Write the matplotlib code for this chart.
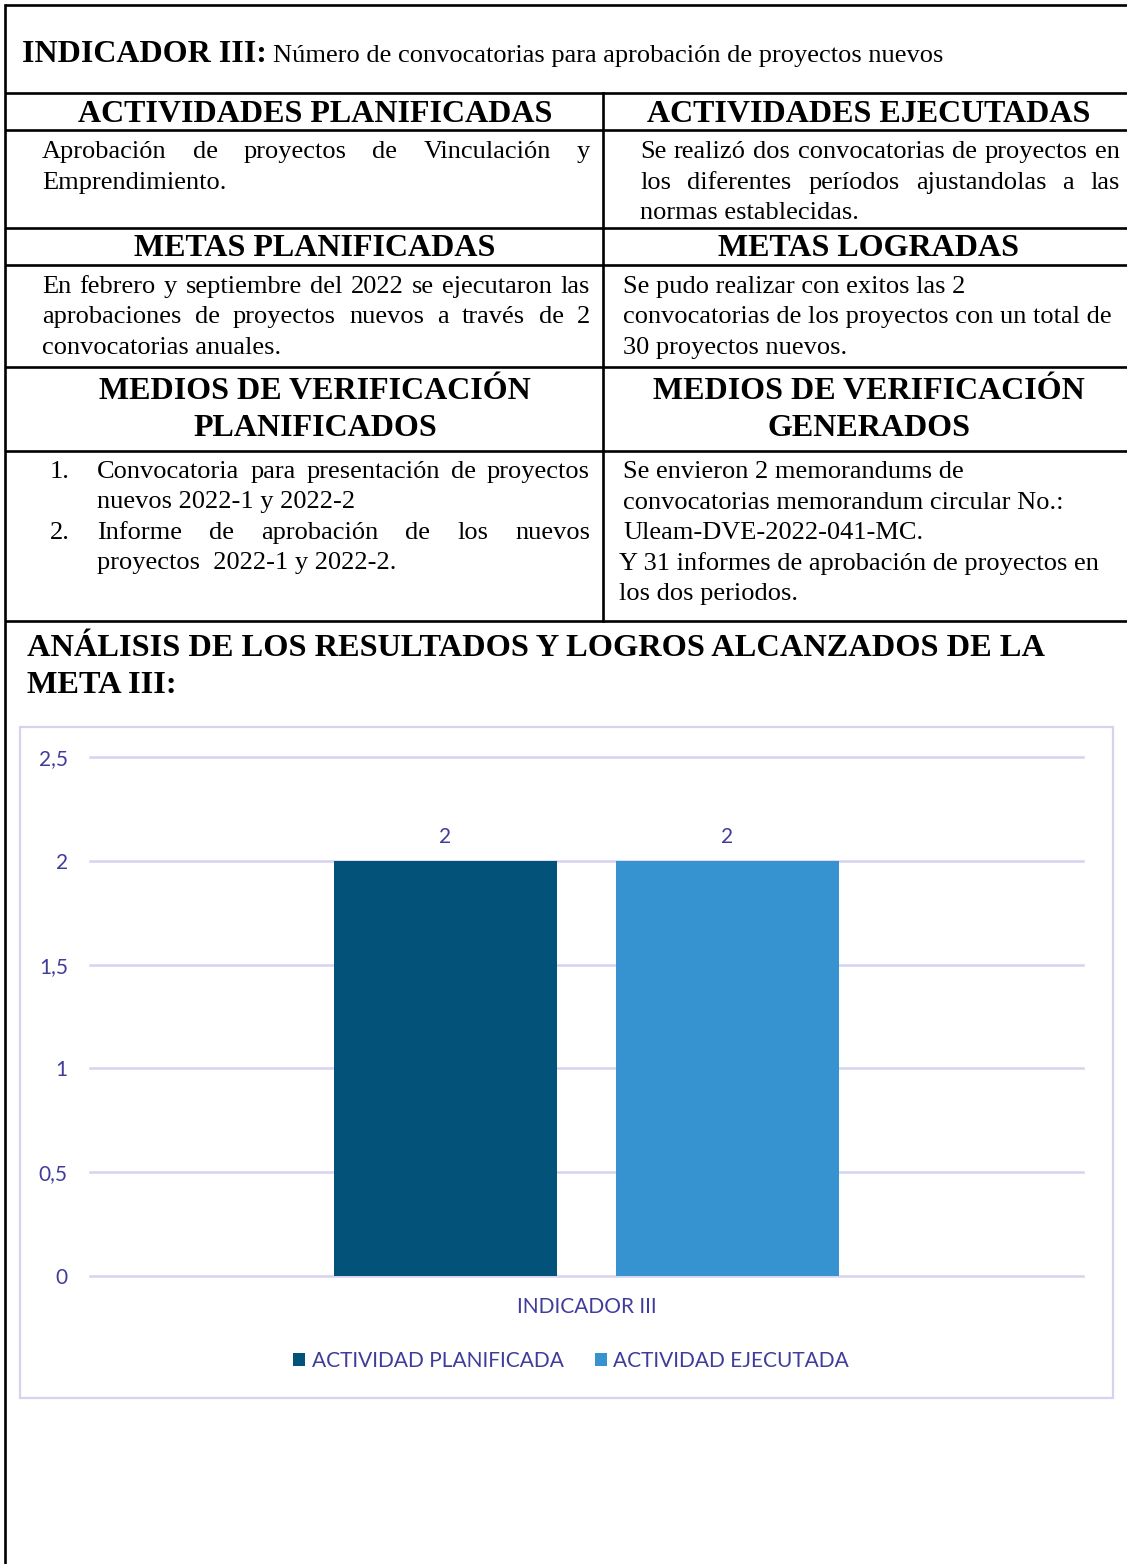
import matplotlib
matplotlib.use("Agg")
import matplotlib.pyplot as plt
import numpy as np
from matplotlib.patches import Rectangle

# chart data
categorias = ["INDICADOR III"]
series = ["ACTIVIDAD PLANIFICADA", "ACTIVIDAD EJECUTADA"]
planificada = [2]
ejecutada = [2]
yticks = [0, 0.5, 1, 1.5, 2, 2.5]
ytick_labels = ["0", "0,5", "1", "1,5", "2", "2,5"]

SERIF = "Liberation Serif"
SANS = "Lato"
azul_osc = "#02527a"
azul_cla = "#3793d0"
txt_chart = "#403c9c"
lavanda = "#d5d3f0"
fs_chart = 15

W, H = 1127, 1564
fig = plt.figure(figsize=(W / 100, H / 100), dpi=100)
bg = fig.add_axes([0, 0, 1, 1])
bg.set_xlim(0, W)
bg.set_ylim(H, 0)
bg.axis("off")
ren = fig.canvas.get_renderer()


def txt(x, y, s, size=19, bold=False, ha="left"):
    return bg.text(x, y, s, fontsize=size, family=SERIF,
                   fontweight="bold" if bold else "normal",
                   ha=ha, va="baseline", color="black")


def justify(x0, x1, y, line, size=19):
    words = line.split()
    ts = [txt(0, y, w, size) for w in words]
    ws = [t.get_window_extent(ren).width for t in ts]
    gap = (x1 - x0 - sum(ws)) / (len(words) - 1)
    x = x0
    for t, w in zip(ts, ws):
        t.set_x(x)
        x += w + gap


# table lines
lw = 1.9
for y in [5, 93, 130, 228, 265, 367, 451, 621]:
    bg.plot([5, W], [y, y], color="black", lw=lw, solid_capstyle="butt")
bg.plot([5, 5], [5, H], color="black", lw=lw)
bg.plot([603, 603], [93, 621], color="black", lw=lw)

# indicador row
t1 = txt(22, 62, "INDICADOR III:", 23, True)
x_after = 22 + t1.get_window_extent(ren).width
txt(x_after + 6, 62, "Número de convocatorias para aprobación de proyectos nuevos", 19)

# headers
for cx, lines in [(315, [(122, "ACTIVIDADES PLANIFICADAS")]),
                  (869, [(122, "ACTIVIDADES EJECUTADAS")]),
                  (315, [(256, "METAS PLANIFICADAS")]),
                  (869, [(256, "METAS LOGRADAS")]),
                  (315, [(399, "MEDIOS DE VERIFICACIÓN"), (436, "PLANIFICADOS")]),
                  (869, [(399, "MEDIOS DE VERIFICACIÓN"), (436, "GENERADOS")])]:
    for y, s in lines:
        txt(cx, y, s, 23, True, ha="center")

# actividades content
justify(42, 590, 158, "Aprobación de proyectos de Vinculación y")
txt(42, 189, "Emprendimiento.")
justify(640, 1120, 158, "Se realizó dos convocatorias de proyectos en")
justify(640, 1120, 189, "los diferentes períodos ajustandolas a las")
txt(640, 219, "normas establecidas.")

# metas content
justify(42, 590, 293, "En febrero y septiembre del 2022 se ejecutaron las")
justify(42, 590, 323, "aprobaciones de proyectos nuevos a través de 2")
txt(42, 354, "convocatorias anuales.")
txt(623, 293, "Se pudo realizar con exitos las 2")
txt(623, 323, "convocatorias de los proyectos con un total de")
txt(623, 354, "30 proyectos nuevos.")

# medios content
txt(50, 478, "1.")
justify(97, 590, 478, "Convocatoria para presentación de proyectos")
txt(97, 508, "nuevos 2022-1 y 2022-2")
txt(50, 539, "2.")
justify(97, 590, 539, "Informe de aprobación de los nuevos")
txt(97, 569, "proyectos  2022-1 y 2022-2.")
txt(623, 478, "Se envieron 2 memorandums de")
txt(623, 509, "convocatorias memorandum circular No.:")
txt(623, 539, "Uleam-DVE-2022-041-MC.")
txt(619, 570, "Y 31 informes de aprobación de proyectos en")
txt(619, 600, "los dos periodos.")

# analysis heading
txt(27, 656, "ANÁLISIS DE LOS RESULTADOS Y LOGROS ALCANZADOS DE LA", 23.3, True)
txt(27, 693, "META III:", 23.3, True)

# chart frame
bg.add_patch(Rectangle((20, 727), 1093, 671, fill=False, edgecolor=lavanda, lw=1.6))

# bar chart
ax = fig.add_axes([90 / W, 1 - 1276 / H, 993 / W, 519 / H])
ax.patch.set_alpha(0)
x = np.arange(len(categorias))
bw = 0.2246
b1 = ax.bar(x - 0.142, planificada, bw, color=azul_osc, label=series[0], zorder=3)
b2 = ax.bar(x + 0.142, ejecutada, bw, color=azul_cla, label=series[1], zorder=3)
ax.set_xlim(-0.5, 0.5)
ax.set_ylim(0, 2.5)
ax.set_yticks(yticks)
ax.set_yticklabels(ytick_labels)
ax.set_xticks(x)
ax.set_xticklabels(categorias)
for s in ax.spines.values():
    s.set_visible(False)
ax.yaxis.grid(True, color=lavanda, lw=1.8, zorder=0)
for gl in ax.get_ygridlines():
    gl.set_clip_on(False)
ax.tick_params(axis="y", length=0, pad=16, labelsize=fs_chart, labelcolor=txt_chart)
ax.tick_params(axis="x", length=0, pad=15, labelsize=fs_chart, labelcolor=txt_chart)
for lab in ax.get_xticklabels() + ax.get_yticklabels():
    lab.set_family(SANS)
for b in (b1, b2):
    lbls = ax.bar_label(b, padding=10, color=txt_chart, fontsize=fs_chart)
    for l in lbls:
        l.set_family(SANS)

leg = fig.legend(handles=[b1, b2], labels=series, loc="center",
                 bbox_to_anchor=(571 / W, 1 - 1361 / H), ncol=2, frameon=False,
                 handlelength=0.6, handleheight=0.6, handletextpad=0.3,
                 columnspacing=1.5, prop={"family": SANS, "size": fs_chart})
for t in leg.get_texts():
    t.set_color(txt_chart)

fig.savefig("out.png", dpi=100)
